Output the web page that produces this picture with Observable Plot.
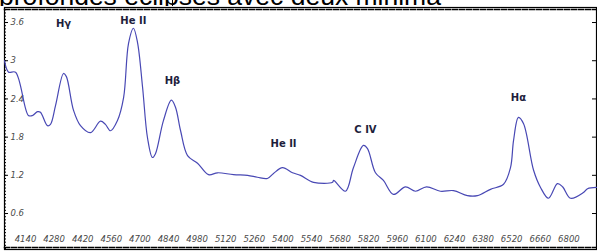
<!DOCTYPE html>
<html><head><meta charset="utf-8">
<script src="https://cdn.jsdelivr.net/npm/d3@7"></script>
<script src="https://cdn.jsdelivr.net/npm/@observablehq/plot@0.6"></script>
<style>
body{margin:0;background:#fff;width:597px;height:251px;overflow:hidden;}
#title{position:relative;height:6px;overflow:hidden;}
#title span{position:absolute;left:-1px;top:-17.5px;font:26.5px/26.5px "Liberation Sans",Arial,sans-serif;color:#000;white-space:nowrap;}
#caret{position:absolute;left:172px;top:0;width:1px;height:6px;background:#000;}
#chart svg{display:block;}
</style></head><body>
<div id="title"><span>profondes éclipses avec deux minima</span><div id="caret"></div></div>
<div id="chart"></div>
<script>
const wavelength = [4047,4067,4101,4164,4184,4209,4223,4257,4272,4297,4336,4350,4385,4419,4468,4517,4541,4566,4600,4630,4654,4678,4698,4723,4747,4771,4786,4825,4864,4884,4909,4943,4992,5046,5090,5168,5237,5285,5334,5364,5408,5457,5496,5560,5653,5658,5716,5755,5804,5824,5863,5902,5951,6010,6059,6113,6181,6245,6313,6362,6426,6490,6524,6539,6563,6588,6637,6671,6710,6754,6779,6818,6881,6901,6945];
const flux = [3.00,2.82,2.82,2.14,2.14,2.20,2.19,1.98,2.00,2.30,2.80,2.75,2.22,1.98,1.87,2.05,2.00,1.90,2.06,2.42,3.27,3.51,3.29,2.58,1.79,1.48,1.54,2.06,2.38,2.27,1.90,1.51,1.39,1.21,1.24,1.21,1.20,1.17,1.15,1.23,1.32,1.24,1.20,1.09,1.09,1.12,0.95,1.32,1.67,1.62,1.24,1.12,0.90,1.02,0.95,1.02,0.95,0.96,0.88,0.88,0.98,1.06,1.32,1.75,2.11,2.01,1.28,1.01,0.84,1.07,1.02,0.84,0.93,0.99,1.01];
const xTicks = [4140,4280,4420,4560,4700,4840,4980,5120,5260,5400,5540,5680,5820,5960,6100,6240,6380,6520,6660,6800];
const yTicks = [0.6,1.2,1.8,2.4,3,3.6];
const lineLabels = ["Hγ","He II","Hβ","He II","C IV","Hα"];
const labelWavelength = [4336,4678,4869,5413,5814,6563];
const labelFlux = [3.58,3.63,2.69,1.70,1.92,2.41];

const spectrum = wavelength.map((w,i)=>({w, f: flux[i]}));
const labels = lineLabels.map((t,i)=>({t, w: labelWavelength[i], f: labelFlux[i]}));
const minorY = d3.range(0.05, 3.84, 0.05);
const tickFont = {fontFamily:"DejaVu Sans", fontStyle:"italic", fontSize:8.5, fill:"#4a4a4a"};

const chart = Plot.plot({
  width: 597, height: 245,
  marginTop: 1, marginBottom: 2, marginLeft: 4, marginRight: 1,
  x: {domain: [4047, 6945], axis: null},
  y: {domain: [0.035, 3.836], axis: null},
  style: {background: "white", fontFamily: "DejaVu Sans"},
  marks: [
    Plot.frame({stroke: "#000", strokeWidth: 1.2}),
    Plot.frame({anchor: "top", dy: 2, stroke: "#000", strokeDasharray: "5,2", strokeWidth: 1.5}),
    Plot.frame({anchor: "bottom", dy: -2, stroke: "#000", strokeDasharray: "5,2", strokeWidth: 1.5}),
    Plot.axisY(minorY, {anchor: "left", tickSize: -2, text: null, label: null, stroke: "#000"}),
    Plot.axisY(yTicks, {anchor: "left", tickSize: -4, text: null, label: null, stroke: "#000"}),
    Plot.axisY(yTicks, {anchor: "right", tickSize: -5, text: null, label: null, stroke: "#000"}),
    Plot.text(yTicks, {y: d => d, text: d => String(d), frameAnchor: "left", dx: 6, textAnchor: "start", ...tickFont}),
    Plot.text(xTicks, {x: d => d, text: d => String(d), frameAnchor: "bottom", dy: -8, dx: 2, ...tickFont}),
    Plot.line(spectrum, {x: "w", y: "f", stroke: "#4848b4", strokeWidth: 1.2, curve: "catmull-rom"}),
    Plot.text(labels, {x: "w", y: "f", text: "t", fontSize: 10, fill: "#1e1e3c", fontWeight: "bold", fontFamily: "DejaVu Sans"})
  ]
});
document.getElementById("chart").appendChild(chart);
</script>
</body></html>
